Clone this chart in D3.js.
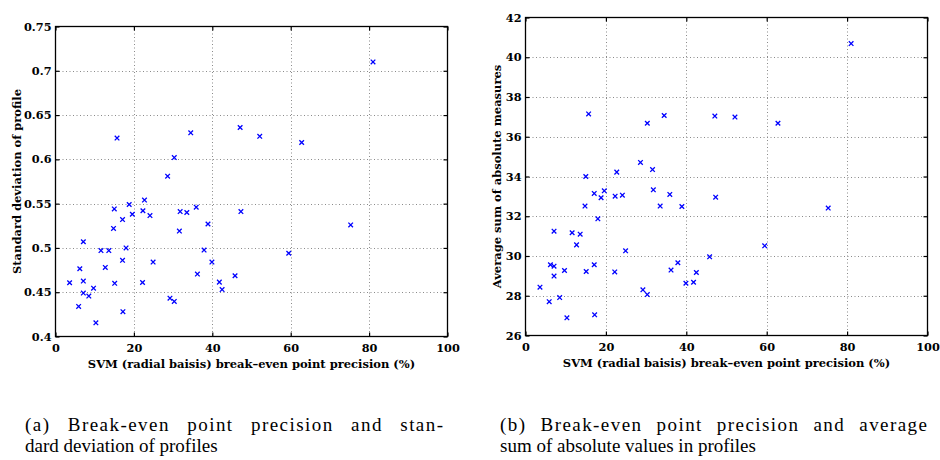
<!DOCTYPE html>
<html><head><meta charset="utf-8">
<script src="https://cdn.jsdelivr.net/npm/d3@7"></script>
<style>
body{margin:0;background:#fff;}
svg{display:block;}
.tick text{font-family:"DejaVu Serif",serif;font-weight:bold;}
</style></head>
<body>
<svg id="chart" width="940" height="460"></svg>
<script>
// x: SVM break-even point precision (%), shared by both panels
const precision = [81.0,47.1,52.1,62.8,34.5,15.7,30.3,28.6,22.7,18.8,15.0,35.9,22.3,31.8,33.5,47.3,19.6,24.1,17.1,14.8,38.9,75.3,31.6,7.1,18.0,11.6,13.6,37.9,59.5,17.1,24.9,39.9,12.7,6.2,36.2,45.8,3.6,7.1,15.1,22.2,41.8,9.7,42.5,7.1,8.5,29.2,30.3,5.9,17.2,10.3];
// panel (a): standard deviation of profile
const stdDev = [0.710,0.636,0.626,0.619,0.630,0.624,0.602,0.581,0.554,0.549,0.544,0.546,0.542,0.541,0.540,0.541,0.538,0.5365,0.532,0.522,0.527,0.526,0.519,0.507,0.500,0.497,0.497,0.4976,0.494,0.486,0.484,0.484,0.478,0.4765,0.4705,0.4686,0.4607,0.4626,0.460,0.461,0.4614,0.4546,0.453,0.449,0.4456,0.4433,0.4396,0.434,0.428,0.4154];
// panel (b): average sum of absolute measures
const avgSum = [40.69,37.04,36.99,36.68,37.07,37.15,36.68,34.71,34.22,32.93,34.00,33.10,33.01,33.33,32.51,32.96,33.28,33.06,33.15,32.51,32.49,32.41,34.35,31.25,31.87,31.17,31.10,29.66,30.51,29.56,30.26,28.63,30.56,29.56,29.29,29.96,28.43,29.49,29.22,29.20,28.68,29.27,29.17,28.99,27.91,28.30,28.06,27.70,27.04,26.89];

const xTicks = [0,20,40,60,80,100];
const yTicksA = [0.4,0.45,0.5,0.55,0.6,0.65,0.7,0.75];
const yTicksB = [26,28,30,32,34,36,38,40,42];
const xLabel = "SVM (radial baisis) break\u2013even point precision (%)";
const yLabelA = "Standard deviation of profile";
const yLabelB = "Average sum of absolute measures";
const captionA = ["(a) Break-even point precision and stan-", "dard deviation of profiles"];
const captionB = ["(b) Break-even point precision and average", "sum of absolute values in profiles"];

const svg = d3.select("#chart");

function panel(opt){
  const g = svg.append("g");
  const x = d3.scaleLinear().domain([0,100]).range([opt.left, opt.right]);
  const y = d3.scaleLinear().domain(opt.yDomain).range([opt.bottom, opt.top]);
  const W = opt.right-opt.left, H = opt.bottom-opt.top;
  // grid
  const grid = g.append("g").attr("stroke","#8a8a8a").attr("stroke-width",1).attr("stroke-dasharray","1,2.5");
  grid.selectAll(".gx").data(opt.xTicks.slice(1,-1)).join("line")
    .attr("x1",d=>Math.round(x(d))+0.5).attr("x2",d=>Math.round(x(d))+0.5)
    .attr("y1",opt.top).attr("y2",opt.bottom);
  grid.selectAll(".gy").data(opt.yTicks.slice(1,-1)).join("line")
    .attr("y1",d=>Math.round(y(d))+0.5).attr("y2",d=>Math.round(y(d))+0.5)
    .attr("x1",opt.left).attr("x2",opt.right);
  // axes (ticks inside)
  const ax = g.append("g").attr("transform",`translate(0,${opt.bottom})`)
    .call(d3.axisBottom(x).tickValues(opt.xTicks).tickSize(-4).tickPadding(7).tickFormat(d3.format("d")));
  const ay = g.append("g").attr("transform",`translate(${opt.left},0)`)
    .call(d3.axisLeft(y).tickValues(opt.yTicks).tickSize(-4).tickPadding(4).tickFormat(opt.fmt));
  const at = g.append("g").attr("transform",`translate(0,${opt.top})`)
    .call(d3.axisTop(x).tickValues(opt.xTicks).tickSize(-4).tickFormat(""));
  const ar = g.append("g").attr("transform",`translate(${opt.right},0)`)
    .call(d3.axisRight(y).tickValues(opt.yTicks).tickSize(-4).tickFormat(""));
  [ax,ay,at,ar].forEach(a=>{
    a.select(".domain").remove();
    a.selectAll("line").attr("stroke","#000").attr("stroke-width",1.2);
    a.selectAll("text").attr("font-size",11.3).attr("fill","#000");
  });
  // frame
  g.append("rect").attr("x",opt.left).attr("y",opt.top).attr("width",W).attr("height",H)
    .attr("fill","none").attr("stroke","#000").attr("stroke-width",1.3);
  // markers
  const s = 2.3;
  g.append("g").attr("stroke","#0000ff").attr("stroke-width",1.3).attr("fill","none")
    .selectAll("path").data(opt.xs.map((v,i)=>[v,opt.ys[i]])).join("path")
    .attr("d",d=>{const cx=x(d[0]), cy=y(d[1]);
      return `M${cx-s},${cy-s}L${cx+s},${cy+s}M${cx-s},${cy+s}L${cx+s},${cy-s}`;});
  // labels
  g.append("text").attr("x",(opt.left+opt.right)/2).attr("y",opt.bottom+31)
    .attr("text-anchor","middle").attr("font-family","DejaVu Serif, serif").attr("font-weight","bold")
    .attr("font-size",11.5).text(xLabel);
  g.append("text").attr("transform",`translate(${opt.ylx},${(opt.top+opt.bottom)/2}) rotate(-90)`)
    .attr("text-anchor","middle").attr("font-family","DejaVu Serif, serif").attr("font-weight","bold")
    .attr("font-size",11.5).text(opt.yLabel);
  // caption
  opt.caption.forEach((t,i)=>{
    const tx = g.append("text").attr("x",opt.capX).attr("y",431+i*21)
      .attr("font-family","Liberation Serif, serif").attr("font-size",19).attr("fill","#000").text(t);
    if(i===0){
      const nat = tx.node().getComputedTextLength();
      const spaces = t.split(" ").length-1;
      const extra = opt.capW-nat;
      const ls = extra*opt.letterShare/(t.length-1);
      const ws = extra*(1-opt.letterShare)/spaces;
      tx.attr("letter-spacing",ls).attr("word-spacing",ws);
    }
  });
}

panel({left:55.5,right:447.5,top:26.5,bottom:336.5,yDomain:[0.4,0.75],xTicks:xTicks,yTicks:yTicksA,
  fmt:d=>String(+d.toFixed(2)),xs:precision,ys:stdDev,yLabel:yLabelA,ylx:21,
  caption:captionA,capX:25,capW:418,letterShare:0.5});
panel({left:525.5,right:927.5,top:17.5,bottom:335.5,yDomain:[26,42],xTicks:xTicks,yTicks:yTicksB,
  fmt:d3.format("d"),xs:precision,ys:avgSum,yLabel:yLabelB,ylx:501,
  caption:captionB,capX:500,capW:427,letterShare:0.6});
</script>
</body></html>
